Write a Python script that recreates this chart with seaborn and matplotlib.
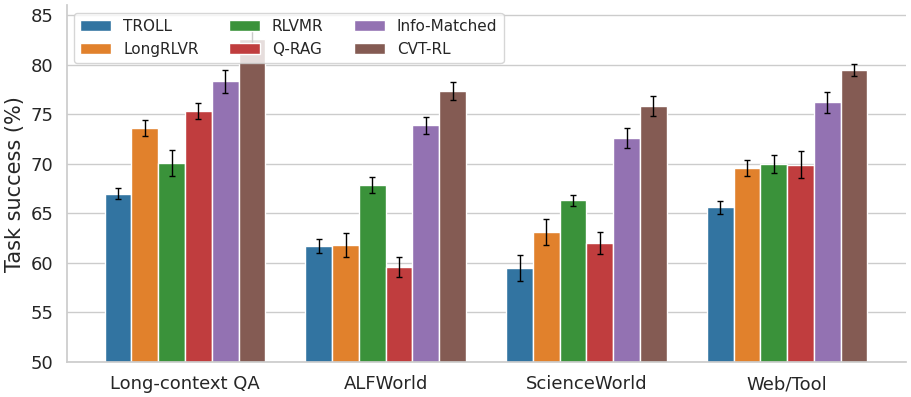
import numpy as np
import pandas as pd
import matplotlib
matplotlib.use('Agg')
import matplotlib.pyplot as plt
import seaborn as sns

# ─────────────────────────────────────────────────────────────────────────────
# Data
# ─────────────────────────────────────────────────────────────────────────────

TASKS   = ['Long-context QA', 'ALFWorld', 'ScienceWorld', 'Web/Tool']
METHODS = ['TROLL', 'LongRLVR', 'RLVMR', 'Q-RAG', 'Info-Matched', 'CVT-RL']

troll        = [67.0, 61.7, 59.5, 65.6]
longrlvr     = [73.6, 61.8, 63.1, 69.6]
rlvmr        = [70.1, 67.9, 66.3, 70.0]
qrag         = [75.3, 59.6, 62.0, 69.9]
info_matched = [78.3, 73.9, 72.6, 76.2]
cvt_rl       = [82.6, 77.3, 75.8, 79.5]

troll_err        = [0.6, 0.7, 1.3, 0.65]
longrlvr_err     = [0.8, 1.2, 1.3, 0.8]
rlvmr_err        = [1.3, 0.8, 0.6, 0.9]
qrag_err         = [0.8, 1.0, 1.1, 1.35]
info_matched_err = [1.2, 0.85, 1.0, 1.05]
cvt_rl_err       = [0.9, 0.9, 1.0, 0.6]


def build_frame():
    means = [troll, longrlvr, rlvmr, qrag, info_matched, cvt_rl]
    errs  = [troll_err, longrlvr_err, rlvmr_err, qrag_err,
             info_matched_err, cvt_rl_err]
    rows = []
    for m, vals, ee in zip(METHODS, means, errs):
        for t, v, e in zip(TASKS, vals, ee):
            rows.append({'task': t, 'method': m, 'success': v, 'err': e})
    return pd.DataFrame(rows)


def main():
    df = build_frame()
    sns.set_theme(style='whitegrid')

    fig, ax = plt.subplots(figsize=(9.12, 3.97), dpi=100)
    sns.barplot(data=df, x='task', y='success', hue='method',
                order=TASKS, hue_order=METHODS, palette='tab10',
                errorbar=None, edgecolor='white', linewidth=1, ax=ax)

    # error bars on top of each bar
    for container, m in zip(ax.containers, METHODS):
        sub = df[df['method'] == m].set_index('task').loc[TASKS]
        xs  = [b.get_x() + b.get_width() / 2 for b in container]
        ax.errorbar(xs, sub['success'], yerr=sub['err'], fmt='none',
                    ecolor='black', elinewidth=1, capsize=2.5, capthick=1,
                    zorder=3)

    ax.set_ylim(50, 86)
    ax.set_yticks(np.arange(50, 86, 5))
    ax.set_xlabel('')
    ax.set_ylabel('Task success (%)', fontsize=15)
    ax.tick_params(axis='both', labelsize=13)
    ax.grid(axis='x', visible=False)
    sns.despine(ax=ax)

    ax.legend(loc='upper left', ncol=3, fontsize=11, frameon=True,
              borderaxespad=0.5, columnspacing=2.0)

    fig.subplots_adjust(left=0.073, right=0.993, top=0.987, bottom=0.088)
    fig.savefig('out.png', dpi=100)
    plt.close(fig)


if __name__ == '__main__':
    main()
